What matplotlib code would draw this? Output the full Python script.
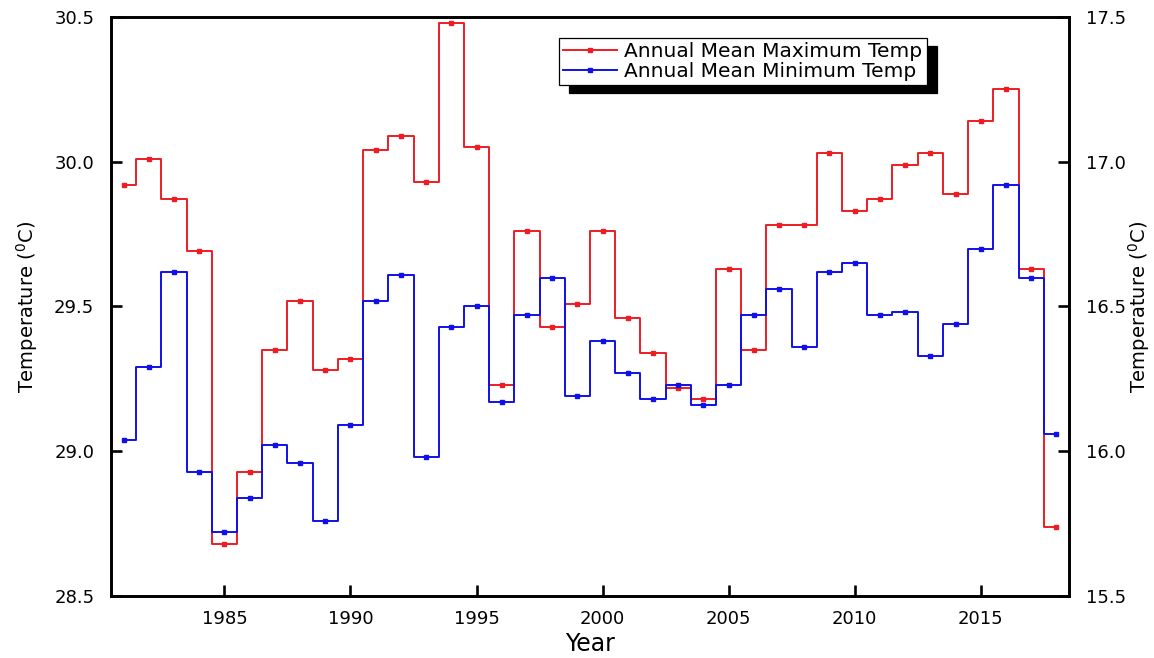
import matplotlib
matplotlib.use("Agg")
import matplotlib.pyplot as plt
from matplotlib.patches import Shadow

plt.rcParams['font.family'] = ['DejaVu Sans']
plt.rcParams['mathtext.default'] = 'regular'

years = list(range(1981, 2019))

max_temp = [29.92, 30.01, 29.87, 29.69, 28.68, 28.93, 29.35, 29.52, 29.28, 29.32,
            30.04, 30.09, 29.93, 30.48, 30.05, 29.23, 29.76, 29.43, 29.51, 29.76,
            29.46, 29.34, 29.22, 29.18, 29.63, 29.35, 29.78, 29.78, 30.03, 29.83,
            29.87, 29.99, 30.03, 29.89, 30.14, 30.25, 29.63, 28.74]

min_temp = [16.04, 16.29, 16.62, 15.93, 15.72, 15.84, 16.02, 15.96, 15.76, 16.09,
            16.52, 16.61, 15.98, 16.43, 16.50, 16.17, 16.47, 16.60, 16.19, 16.38,
            16.27, 16.18, 16.23, 16.16, 16.23, 16.47, 16.56, 16.36, 16.62, 16.65,
            16.47, 16.48, 16.33, 16.44, 16.70, 16.92, 16.60, 16.06]

max_label = "Annual Mean Maximum Temp"
min_label = "Annual Mean Minimum Temp"
x_ticks = [1985, 1990, 1995, 2000, 2005, 2010, 2015]
left_ticks = [28.5, 29.0, 29.5, 30.0, 30.5]
right_ticks = [15.5, 16.0, 16.5, 17.0, 17.5]

fig = plt.figure(figsize=(11.54, 6.58), dpi=100)
ax = fig.add_axes([0.0962, 0.0942, 0.8301, 0.88])
ax2 = ax.twinx()

red = "#ee1c24"
blue = "#1010e8"

l1, = ax.plot(years, max_temp, drawstyle="steps-mid", color=red, lw=1.4,
              marker="s", ms=3.5, mec=red, mfc=red, label=max_label)
l2, = ax2.plot(years, min_temp, drawstyle="steps-mid", color=blue, lw=1.4,
               marker="s", ms=3.5, mec=blue, mfc=blue, label=min_label)

ax.set_xlim(1980.5, 2018.5)
ax.set_ylim(28.5, 30.5)
ax2.set_ylim(15.5, 17.5)

ax.set_xticks(x_ticks)
ax.set_yticks(left_ticks)
ax2.set_yticks(right_ticks)
ax.set_yticklabels([f"{v:.1f}" for v in left_ticks])
ax2.set_yticklabels([f"{v:.1f}" for v in right_ticks])

for a in (ax, ax2):
    for s in a.spines.values():
        s.set_linewidth(1.9)

ax.tick_params(axis="x", direction="in", length=8, width=1.9, labelsize=13, pad=10,
               top=False)
ax.tick_params(axis="y", direction="in", length=8, width=1.9, labelsize=13, pad=12,
               right=False)
ax2.tick_params(axis="y", direction="in", length=8, width=1.9, labelsize=13, pad=12)

ax.set_xlabel("Year", fontsize=17, labelpad=3)
ax.set_ylabel("Temperature ($^{0}$C)", fontsize=14, labelpad=10)
ax2.set_ylabel("Temperature ($^{0}$C)", fontsize=14, labelpad=0)

leg = ax2.legend(handles=[l1, l2], loc="upper left", bbox_to_anchor=(0.4676, 0.9637),
                 bbox_transform=ax2.transAxes, borderaxespad=0, fancybox=False,
                 framealpha=1, edgecolor="black", fontsize=14.5, numpoints=1,
                 handlelength=2.7, handletextpad=0.35, borderpad=0.2,
                 labelspacing=0.03)
leg.get_frame().set_linewidth(0.9)
leg.set_zorder(10)

fig.canvas.draw()
sh = Shadow(leg.legendPatch, 7.5, -6, facecolor="black", edgecolor="black", alpha=1)
sh.set_zorder(9)
ax2.add_artist(sh)

fig.savefig("out.png", dpi=100)
